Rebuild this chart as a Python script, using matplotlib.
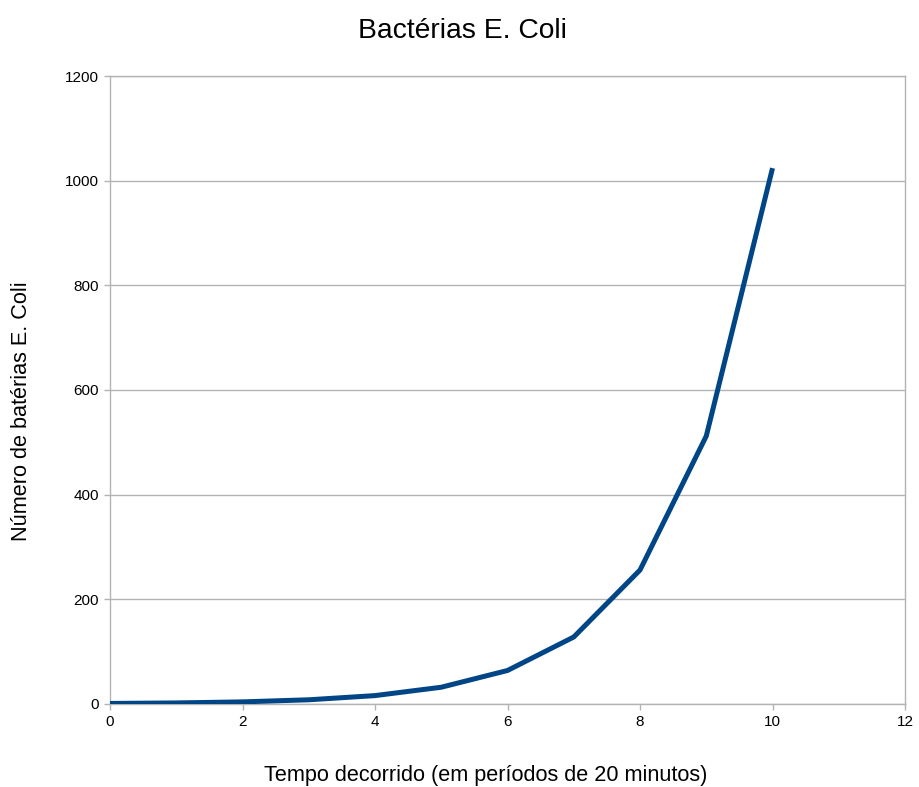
import matplotlib.pyplot as plt

plt.rcParams['font.family'] = ['Liberation Sans', 'DejaVu Sans']

tempo = [0, 1, 2, 3, 4, 5, 6, 7, 8, 9, 10]
bacterias = [1, 2, 4, 8, 16, 32, 64, 128, 256, 512, 1024]
xticks = [0, 2, 4, 6, 8, 10, 12]
yticks = [0, 200, 400, 600, 800, 1000, 1200]

fig = plt.figure(figsize=(9.19, 7.87), dpi=100)
ax = fig.add_axes([0.1197, 0.1055, 0.8651, 0.7979])

grey = '#b3b3b3'
ax.plot(tempo, bacterias, color='#004586', linewidth=3.6, solid_capstyle='butt', zorder=3)

ax.set_xlim(0, 12)
ax.set_ylim(0, 1200)
ax.set_xticks(xticks)
ax.set_yticks(yticks)
ax.grid(axis='y', color=grey, linewidth=1)
ax.set_axisbelow(True)
for s in ax.spines.values():
    s.set_color(grey)
    s.set_linewidth(1)
ax.tick_params(color=grey, length=4, width=1, labelsize=11, pad=4)

# título e rótulos centrados na figura, como no original
fig.text(462 / 919, 1 - 31 / 787, 'Bactérias E. Coli', fontsize=20.3, ha='center', va='center')
fig.text(486 / 919, 1 - 775 / 787, 'Tempo decorrido (em períodos de 20 minutos)', fontsize=15.6,
         ha='center', va='center')
fig.text(22 / 919, 1 - 411 / 787, 'Número de batérias E. Coli', fontsize=15.6,
         rotation=90, ha='center', va='center')

fig.savefig('out.png', dpi=100)
